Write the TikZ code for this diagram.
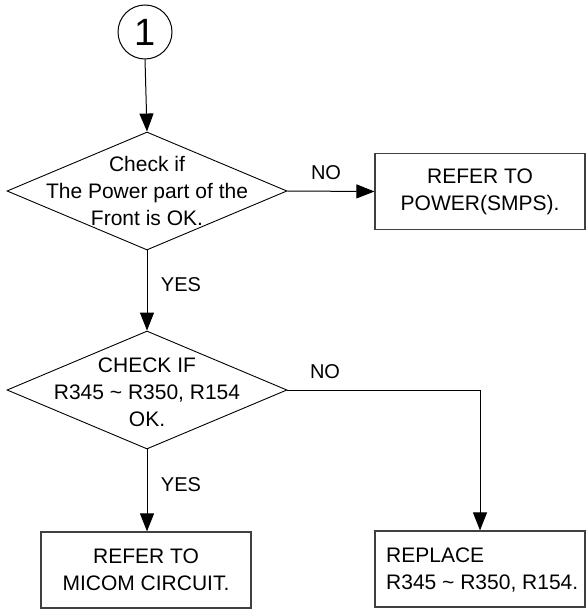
\documentclass[tikz,border=0pt]{standalone}
\usepackage{fontspec}
\setmainfont{Liberation Sans}
\usetikzlibrary{shapes.geometric,arrows.meta}
\begin{document}
\begin{tikzpicture}[x=1pt,y=-1pt,
  txt/.style={font=\fontsize{21}{27}\selectfont, align=center, inner sep=0pt},
  lbl/.style={font=\fontsize{20}{24}\selectfont, inner sep=0pt},
  dia/.style={diamond, draw, line width=0.9pt, minimum width=280pt, minimum height=118pt, inner sep=0pt},
  boxnode/.style={draw, line width=1.2pt, draw=black!75, minimum width=210pt, minimum height=76pt, inner sep=0pt},
  conn/.style={line width=1pt, -{Triangle[width=14pt,length=18pt]}}]
\useasboundingbox (0,0) rectangle (586,615);
\node[circle, draw, line width=1pt, minimum size=54pt, inner sep=0pt, font=\fontsize{38}{40}\selectfont] (c1) at (145,32) {1};
\node[dia] (d1) at (147,191) {};
\node[txt] at (d1.center) {Check if\\The Power part of the\\Front is OK.};
\node[boxnode] (b1) at (480,191.5) {};
\node[txt] at (b1.center) {REFER TO\\POWER(SMPS).};
\node[dia] (d2) at (147,390) {};
\node[txt] at (147,392) {CHECK IF\\R345 \char"7E{} R350, R154\\OK.};
\node[boxnode] (b3) at (146,570) {};
\node[txt] at (b3.center) {REFER TO\\MICOM CIRCUIT.};
\node[boxnode] (b2) at (480,569) {};
\node[txt, align=left, anchor=west] at (386,570) {REPLACE\\R345 \char"7E{} R350, R154.};
\node[lbl] (no1) at (326,173) {NO};
\node[lbl] (yes1) at (181,285) {YES};
\node[lbl] (no2) at (325,372) {NO};
\node[lbl] (yes2) at (181,485) {YES};
\coordinate (k) at (b2.north |- d2.east);
\draw[conn] (c1.south) -- (d1.north);
\draw[conn] (d1.east) -- (b1.west);
\draw[conn] (d1.south) -- (d2.north);
\draw[conn] (d2.south) -- (d2.south |- b3.north);
\draw[conn] (d2.east) -- (k) -- (b2.north);
\end{tikzpicture}
\end{document}
